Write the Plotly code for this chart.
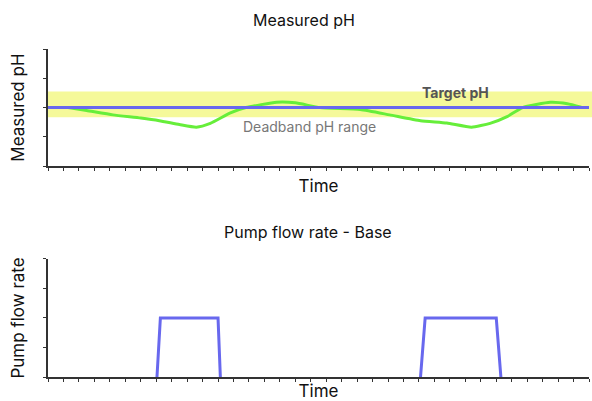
import plotly.graph_objects as go

# ---- data ----
time_range = [0, 35]
target_ph = 2.0
deadband_low = 1.67
deadband_high = 2.55

ph_time = [1.3, 2.5, 4.2, 6.0, 7.2, 8.5, 9.6, 10.5, 11.8, 12.8, 14.8, 16.0, 17.6,
           20.2, 22.1, 24.1, 25.8, 27.4, 28.6, 29.7, 30.7, 32.5, 33.6, 34.5]
ph_value = [2.0, 1.9, 1.75, 1.64, 1.55, 1.42, 1.33, 1.46, 1.82, 2.0, 2.18, 2.16, 2.0,
            1.93, 1.75, 1.55, 1.47, 1.33, 1.46, 1.69, 2.0, 2.18, 2.13, 2.01]

pump_time = [7.05, 7.27, 11.0, 11.15, None, 24.1, 24.4, 29.0, 29.3]
pump_rate = [0, 2, 2, 0, None, 0, 2, 2, 0]

FONT = "Inter"
AX = "#333333"
GREEN = "#66ee3a"
BLUE = "#6868ee"

fig = go.Figure()

fig.add_trace(go.Scatter(x=ph_time, y=ph_value, mode="lines",
                         line=dict(color=GREEN, width=3, shape="spline", smoothing=0.5),
                         xaxis="x", yaxis="y", hoverinfo="skip"))
fig.add_trace(go.Scatter(x=time_range, y=[target_ph, target_ph], mode="lines", line=dict(color=BLUE, width=3),
                         xaxis="x", yaxis="y", hoverinfo="skip"))
fig.add_trace(go.Scatter(x=pump_time, y=pump_rate, mode="lines", line=dict(color=BLUE, width=3),
                         connectgaps=False, xaxis="x2", yaxis="y2", hoverinfo="skip"))

fig.add_shape(type="rect", xref="x domain", yref="y", x0=0, x1=1.01, y0=deadband_low, y1=deadband_high,
              fillcolor="#f5f99a", line=dict(width=0), layer="below")

xcommon = dict(range=time_range, dtick=1, ticks="outside", ticklen=3, tickcolor=AX, tickwidth=1, automargin=False,
               showticklabels=False, showline=True, linecolor=AX, linewidth=1.5, showgrid=False, zeroline=False,
               title=dict(text="Time", font=dict(family=FONT, size=17, color="#111"), standoff=10))
ycommon = dict(range=[0, 4], dtick=1, ticks="outside", ticklen=3, tickcolor=AX, tickwidth=1, automargin=False,
               showticklabels=False, showline=True, linecolor=AX, linewidth=1.5, showgrid=False, zeroline=False)

fig.update_layout(
    width=592, height=401,
    margin=dict(l=48, r=3, t=49, b=24),
    paper_bgcolor="white", plot_bgcolor="white",
    showlegend=False,
    xaxis=dict(**xcommon, domain=[0, 1], anchor="y"),
    yaxis=dict(**ycommon, domain=[0.643, 1.0], anchor="x",
               title=dict(text="Measured pH", font=dict(family=FONT, size=17, color="#111"), standoff=14)),
    xaxis2=dict(**xcommon, domain=[0, 1], anchor="y2"),
    yaxis2=dict(**ycommon, domain=[0, 0.36], anchor="x2",
                title=dict(text="Pump flow rate", font=dict(family=FONT, size=17, color="#111"), standoff=14)),
    font=dict(family=FONT),
)

fig.add_annotation(text="Measured pH", xref="paper", yref="paper", x=(304 - 48) / 541, y=(377 - 20) / 328,
                   showarrow=False, font=dict(family=FONT, size=16, color="#111"), xanchor="center", yanchor="middle")
fig.add_annotation(text="Pump flow rate - Base", xref="paper", yref="paper", x=(308 - 48) / 541, y=(377 - 232) / 328,
                   showarrow=False, font=dict(family=FONT, size=16, color="#111"), xanchor="center", yanchor="middle")
fig.add_annotation(text="<b>Target pH</b>", xref="paper", yref="paper", x=(455 - 48) / 541, y=(377 - 92) / 328,
                   showarrow=False, font=dict(family=FONT, size=14, color="#555"), xanchor="center", yanchor="middle")
fig.add_annotation(text="Deadband pH range", xref="paper", yref="paper", x=(309 - 48) / 541, y=(377 - 126) / 328,
                   showarrow=False, font=dict(family=FONT, size=14, color="#777"), xanchor="center", yanchor="middle")

fig.write_html("out.html", config={"displayModeBar": False},
               post_script="document.body.style.margin='0';document.body.style.overflow='hidden';")
